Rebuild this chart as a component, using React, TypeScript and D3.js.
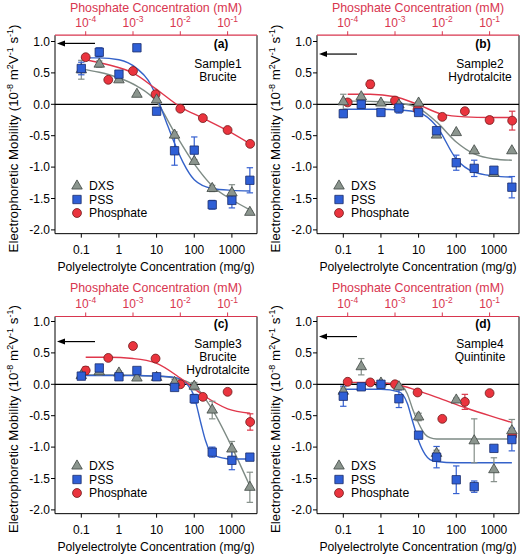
import React from 'react';
import * as d3 from 'd3';

// ---------- shared axis values ----------
const polyConc = [0.1, 0.3, 1, 3, 10, 30, 100, 300, 1000, 3000];
const phosConc = [1e-4, 3e-4, 1e-3, 3e-3, 1e-2, 3e-2, 1e-1, 3e-1];
const polyTicks = [0.1, 1, 10, 100, 1000];
const polyTickLabels = ['0.1', '1', '10', '100', '1000'];
const phosTicks = [1e-4, 1e-3, 1e-2, 1e-1];
const phosTickExps = ['-4', '-3', '-2', '-1'];
const yTicks = [1.0, 0.5, 0, -0.5, -1.0, -1.5, -2.0];
const yTickLabels = ['1.0', '0.5', '0.0', '-0.5', '-1.0', '-1.5', '-2.0'];
const legendNames = ['DXS', 'PSS', 'Phosphate'];

// ---------- panel (a) Sample1 Brucite ----------
const dxsA = [0.55, 0.64, 0.39, 0.16, 0.07, -0.49, -0.91, -1.34, -1.41, -1.72];
const dxsErrA = [0.15, 0.05, 0.03, 0.02, 0.03, 0.05, 0.03, 0.05, 0.13, 0.02];
const pssA = [0.57, 0.83, 0.48, 0.9, -0.11, -0.74, -0.73, -1.6, -1.53, -1.21];
const pssErrA = [0.1, 0.07, 0.02, 0.02, 0.03, 0.23, 0.21, 0.07, 0.12, 0.2];
const phosA = [0.75, 0.39, 0.53, 0.16, -0.07, -0.22, -0.41, -0.63];
const phosErrA = [0.02, 0, 0, 0, 0, 0, 0, 0];
const dxsFitXA = [0.1, 0.3, 1, 3, 10, 30, 100, 300, 1000, 3000];
const dxsFitA = [0.56, 0.51, 0.42, 0.29, 0.04, -0.45, -0.95, -1.3, -1.52, -1.68];
const pssFitXA = [0.1, 0.3, 1, 3, 6, 10, 20, 30, 50, 100, 300, 1000, 3000];
const pssFitA = [0.74, 0.74, 0.71, 0.57, 0.38, 0.12, -0.35, -0.62, -0.92, -1.2, -1.34, -1.37, -1.38];
const phosFitA = [0.71, 0.63, 0.5, 0.25, -0.04, -0.22, -0.42, -0.63];

// ---------- panel (b) Sample2 Hydrotalcite ----------
const dxsB = [0.04, 0.12, 0.02, -0.01, 0.02, -0.49, -0.45, -0.74, -1.1, -0.74];
const dxsErrB = [0.12, 0.03, 0.02, 0.04, 0.02, 0.02, 0.02, 0.02, 0.03, 0.02];
const pssB = [-0.15, 0.0, -0.13, -0.06, -0.13, -0.42, -0.93, -1.02, -1.05, -1.32];
const pssErrB = [0.02, 0.06, 0.02, 0.08, 0.03, 0.03, 0.12, 0.13, 0.03, 0.17];
const phosB = [0.03, 0.32, 0.06, -0.08, -0.2, -0.11, -0.25, -0.26];
const phosErrB = [0.02, 0.06, 0.02, 0.03, 0.02, 0.02, 0.05, 0.15];
const dxsFitXB = [0.1, 0.3, 1, 3, 10, 30, 100, 300, 1000, 3000];
const dxsFitB = [0.05, 0.05, 0.04, 0.02, -0.06, -0.28, -0.6, -0.79, -0.87, -0.89];
const pssFitXB = [0.1, 0.3, 1, 3, 10, 30, 100, 300, 1000, 3000];
const pssFitB = [-0.08, -0.08, -0.08, -0.09, -0.13, -0.35, -0.87, -1.08, -1.14, -1.16];
const phosFitB = [0.16, 0.16, 0.12, 0.0, -0.16, -0.2, -0.21, -0.21];

// ---------- panel (c) Sample3 Brucite Hydrotalcite ----------
const dxsC = [0.14, 0.2, 0.18, 0.1, 0.11, 0.03, -0.03, -0.41, -1.03, -1.64];
const dxsErrC = [0.03, 0.05, 0.03, 0.02, 0.03, 0.05, 0.06, 0.14, 0.12, 0.24];
const pssC = [0.13, 0.26, 0.12, 0.22, 0.12, -0.05, -0.23, -1.08, -1.21, -1.16];
const pssErrC = [0.02, 0.03, 0.02, 0.04, 0.03, 0.03, 0.07, 0.08, 0.15, 0.02];
const phosC = [0.22, 0.42, 0.61, 0.41, 0.0, -0.2, -0.12, -0.6];
const phosErrC = [0.06, 0.02, 0.02, 0.04, 0.02, 0.02, 0.02, 0.13];
const dxsFitXC = [0.1, 0.3, 1, 3, 10, 30, 100, 300, 1000, 3000];
const dxsFitC = [0.15, 0.15, 0.15, 0.14, 0.13, 0.1, -0.02, -0.4, -1.0, -1.62];
const pssFitXC = [0.1, 0.3, 1, 3, 10, 30, 60, 100, 150, 200, 300, 1000, 3000];
const pssFitC = [0.14, 0.14, 0.14, 0.14, 0.13, 0.11, 0.02, -0.2, -0.62, -0.9, -1.12, -1.19, -1.19];
const phosFitC = [0.43, 0.43, 0.41, 0.34, 0.1, -0.17, -0.39, -0.46];

// ---------- panel (d) Sample4 Quintinite ----------
const dxsD = [-0.11, 0.28, 0.02, -0.04, -0.52, -1.1, -0.25, -0.9, -1.36, -0.74];
const dxsErrD = [0.05, 0.13, 0.02, 0.03, 0.06, 0.05, 0.03, 0.35, 0.19, 0.18];
const pssD = [-0.19, -0.04, 0.0, -0.23, -0.81, -1.16, -1.52, -1.63, -1.02, -0.88];
const pssErrD = [0.16, 0.03, 0.02, 0.14, 0.05, 0.17, 0.22, 0.09, 0.03, 0.18];
const phosD = [0.04, 0.03, 0.0, -0.13, -0.55, -0.28, -0.14, -0.82];
const phosErrD = [0.02, 0.02, 0.02, 0.03, 0.02, 0.12, 0.02, 0.05];
const dxsFitXD = [0.1, 0.3, 1, 3, 5, 7, 10, 15, 20, 30, 100, 300, 1000, 3000];
const dxsFitD = [0.02, 0.02, 0.02, 0.0, -0.15, -0.4, -0.62, -0.8, -0.85, -0.87, -0.87, -0.87, -0.87, -0.87];
const pssFitXD = [0.1, 0.3, 1, 3, 5, 7, 10, 15, 20, 30, 100, 300, 1000, 3000];
const pssFitD = [-0.08, -0.08, -0.08, -0.12, -0.3, -0.6, -0.9, -1.12, -1.2, -1.23, -1.25, -1.25, -1.25, -1.25];
const phosFitD = [0.03, 0.03, 0.0, -0.1, -0.24, -0.37, -0.5, -0.61];

const FONT = "'Liberation Sans', Arial, Helvetica, sans-serif";
const RED_AXIS = '#d8364f';
const C = {
  dxs: { fill: '#8b958e', stroke: '#3d4541', line: '#7e8b85', err: '#858f89' },
  pss: { fill: '#2f5fd6', stroke: '#1b2c6a', line: '#3462c9', err: '#3560d0' },
  phos: { fill: '#ea343e', stroke: '#6e1c1c', line: '#e0374b', err: '#d8394a' },
};

const panels = [
  {
    ox: 0, oy: 0, yTop: 1.1, tag: '(a)', lines: ['Sample1', 'Brucite'], arrow: 0.97,
    dxs: dxsA, dxsErr: dxsErrA, pss: pssA, pssErr: pssErrA, phos: phosA, phosErr: phosErrA,
    dxsFitX: dxsFitXA, dxsFit: dxsFitA, pssFitX: pssFitXA, pssFit: pssFitA, phosFit: phosFitA,
  },
  {
    ox: 262, oy: 0, yTop: 1.1, tag: '(b)', lines: ['Sample2', 'Hydrotalcite'], arrow: 0.8,
    dxs: dxsB, dxsErr: dxsErrB, pss: pssB, pssErr: pssErrB, phos: phosB, phosErr: phosErrB,
    dxsFitX: dxsFitXB, dxsFit: dxsFitB, pssFitX: pssFitXB, pssFit: pssFitB, phosFit: phosFitB,
  },
  {
    ox: 0, oy: 280, yTop: 1.08, tag: '(c)', lines: ['Sample3', 'Brucite', 'Hydrotalcite'], arrow: 0.68,
    dxs: dxsC, dxsErr: dxsErrC, pss: pssC, pssErr: pssErrC, phos: phosC, phosErr: phosErrC,
    dxsFitX: dxsFitXC, dxsFit: dxsFitC, pssFitX: pssFitXC, pssFit: pssFitC, phosFit: phosFitC,
  },
  {
    ox: 262, oy: 280, yTop: 1.08, tag: '(d)', lines: ['Sample4', 'Quintinite'], arrow: 0.76,
    dxs: dxsD, dxsErr: dxsErrD, pss: pssD, pssErr: pssErrD, phos: phosD, phosErr: phosErrD,
    dxsFitX: dxsFitXD, dxsFit: dxsFitD, pssFitX: pssFitXD, pssFit: pssFitD, phosFit: phosFitD,
  },
];

const LEFT = 55;
const RIGHT = 257;
const yBottom = -2.06;

const xs = d3.scaleLog().domain([0.1, 1000]).range([81.3, 231.9]);
const xt = d3.scaleLog().domain([1e-4, 1e-1]).range([85.7, 227.6]);
const ys = d3.scaleLinear().domain([-2.0, 1.0]).range([229.9, 41.5]);

const triPath = d3.symbol().type(d3.symbolTriangle).size(48)() as string;
const sqPath = d3.symbol().type(d3.symbolSquare).size(70)() as string;
const circPath = d3.symbol().type(d3.symbolCircle).size(62)() as string;

function fitPath(xv: number[], yv: number[], sx: any) {
  const pts: [number, number][] = xv.map((x, i) => [x, yv[i]]);
  return d3.line<[number, number]>()
    .x(d => sx(d[0]))
    .y(d => ys(d[1]))
    .curve(d3.curveMonotoneX)(pts) as string;
}

function ErrorBars({ xv, yv, ev, sx, color }: any) {
  return (
    <g stroke={color} strokeWidth={1.2} fill="none">
      {xv.map((x: number, i: number) => {
        const e = ev[i];
        if (!e) return null;
        const cx = sx(x);
        const y1 = ys(yv[i] + e);
        const y2 = ys(yv[i] - e);
        return (
          <g key={i}>
            <line x1={cx} x2={cx} y1={y1} y2={y2} />
            <line x1={cx - 3.2} x2={cx + 3.2} y1={y1} y2={y1} />
            <line x1={cx - 3.2} x2={cx + 3.2} y1={y2} y2={y2} />
          </g>
        );
      })}
    </g>
  );
}

function Markers({ xv, yv, sx, path, col }: any) {
  return (
    <g fill={col.fill} stroke={col.stroke} strokeWidth={0.8}>
      {xv.map((x: number, i: number) => (
        <path key={i} d={path} transform={`translate(${sx(x)},${ys(yv[i])})`} />
      ))}
    </g>
  );
}

function Panel({ p }: any) {
  const top = ys(p.yTop);
  const bottom = ys(yBottom);
  const midX = (LEFT + RIGHT) / 2;
  const ay = ys(p.arrow);
  return (
    <g transform={`translate(${p.ox},${p.oy})`} fontFamily={FONT}>
      {/* top axis (phosphate) */}
      <text x={midX} y={11.5} textAnchor="middle" fontSize={12.4} fill={RED_AXIS}>
        Phosphate Concentration (mM)
      </text>
      {phosTicks.map((t, i) => (
        <g key={i}>
          <line x1={xt(t)} x2={xt(t)} y1={top} y2={top - 4} stroke={RED_AXIS} strokeWidth={1} />
          <text x={xt(t)} y={top - 8.5} textAnchor="middle" fontSize={12} fill={RED_AXIS}>
            10<tspan dy={-5} fontSize={8.5}>{phosTickExps[i]}</tspan>
          </text>
        </g>
      ))}
      {/* box */}
      <line x1={LEFT} x2={LEFT} y1={top} y2={bottom} stroke="#000" strokeWidth={1} />
      <line x1={RIGHT} x2={RIGHT} y1={top} y2={bottom} stroke="#000" strokeWidth={1} />
      <line x1={LEFT} x2={RIGHT} y1={bottom} y2={bottom} stroke="#000" strokeWidth={1} />
      <line x1={LEFT} x2={RIGHT} y1={top} y2={top} stroke={RED_AXIS} strokeWidth={1.2} />
      {/* y axis */}
      {yTicks.map((t, i) => (
        <g key={i}>
          <line x1={LEFT - 4} x2={LEFT} y1={ys(t)} y2={ys(t)} stroke="#000" strokeWidth={1} />
          <text x={LEFT - 5} y={ys(t) + 4.3} textAnchor="end" fontSize={12}>{yTickLabels[i]}</text>
        </g>
      ))}
      {/* bottom axis */}
      {polyTicks.map((t, i) => (
        <g key={i}>
          <line x1={xs(t)} x2={xs(t)} y1={bottom} y2={bottom + 4} stroke="#000" strokeWidth={1} />
          <text x={xs(t)} y={bottom + 20.5} textAnchor="middle" fontSize={12}>{polyTickLabels[i]}</text>
        </g>
      ))}
      <text x={midX} y={bottom + 37} textAnchor="middle" fontSize={12.2}>
        Polyelectrolyte Concentration (mg/g)
      </text>
      {/* y title */}
      <text transform={`translate(18,${(top + bottom) / 2 + 4}) rotate(-90)`} textAnchor="middle" fontSize={13.3}>
        Electrophoretic Mobility (10<tspan dy={-5.5} fontSize={9}>-8</tspan>
        <tspan dy={5.5}> m</tspan><tspan dy={-5.5} fontSize={9}>2</tspan>
        <tspan dy={5.5}>V</tspan><tspan dy={-5.5} fontSize={9}>-1</tspan>
        <tspan dy={5.5}> s</tspan><tspan dy={-5.5} fontSize={9}>-1</tspan>
        <tspan dy={5.5}>)</tspan>
      </text>
      {/* zero line */}
      <line x1={LEFT} x2={RIGHT} y1={ys(0)} y2={ys(0)} stroke="#000" strokeWidth={1.2} />
      {/* arrow */}
      <line x1={63} x2={95} y1={ay} y2={ay} stroke="#000" strokeWidth={1.2} />
      <path d={`M57,${ay} L65,${ay - 3} L65,${ay + 3} Z`} fill="#000" />
      {/* annotations */}
      <text x={221} y={ys(1.0) + 6} textAnchor="middle" fontSize={12} fontWeight="bold">{p.tag}</text>
      {p.lines.map((s: string, i: number) => (
        <text key={i} x={218} y={ys(1.0) + 26 + i * 13} textAnchor="middle" fontSize={12}>{s}</text>
      ))}
      {/* fit lines */}
      <path d={fitPath(p.dxsFitX, p.dxsFit, xs)} fill="none" stroke={C.dxs.line} strokeWidth={1.4} />
      <path d={fitPath(p.pssFitX, p.pssFit, xs)} fill="none" stroke={C.pss.line} strokeWidth={1.4} />
      <path d={fitPath(phosConc, p.phosFit, xt)} fill="none" stroke={C.phos.line} strokeWidth={1.4} />
      {/* error bars */}
      <ErrorBars xv={phosConc} yv={p.phos} ev={p.phosErr} sx={xt} color={C.phos.err} />
      <ErrorBars xv={polyConc} yv={p.dxs} ev={p.dxsErr} sx={xs} color={C.dxs.err} />
      <ErrorBars xv={polyConc} yv={p.pss} ev={p.pssErr} sx={xs} color={C.pss.err} />
      {/* markers */}
      <Markers xv={phosConc} yv={p.phos} sx={xt} path={circPath} col={C.phos} />
      <Markers xv={polyConc} yv={p.dxs} sx={xs} path={triPath} col={C.dxs} />
      <Markers xv={polyConc} yv={p.pss} sx={xs} path={sqPath} col={C.pss} />
      {/* legend */}
      {legendNames.map((n, i) => {
        const ly = 186 + i * 13.5;
        const path = i === 0 ? triPath : i === 1 ? sqPath : circPath;
        const col = i === 0 ? C.dxs : i === 1 ? C.pss : C.phos;
        return (
          <g key={n}>
            <path d={path} transform={`translate(77,${ly})`} fill={col.fill} stroke={col.stroke} strokeWidth={0.8} />
            <text x={89} y={ly + 4.3} fontSize={12.2}>{n}</text>
          </g>
        );
      })}
    </g>
  );
}

export default function App() {
  return (
    <svg width={520} height={556} style={{ position: 'absolute', left: 0, top: 0, background: '#fff' }}>
      <rect width={520} height={556} fill="#fff" />
      {panels.map((p, i) => <Panel key={i} p={p} />)}
    </svg>
  );
}
